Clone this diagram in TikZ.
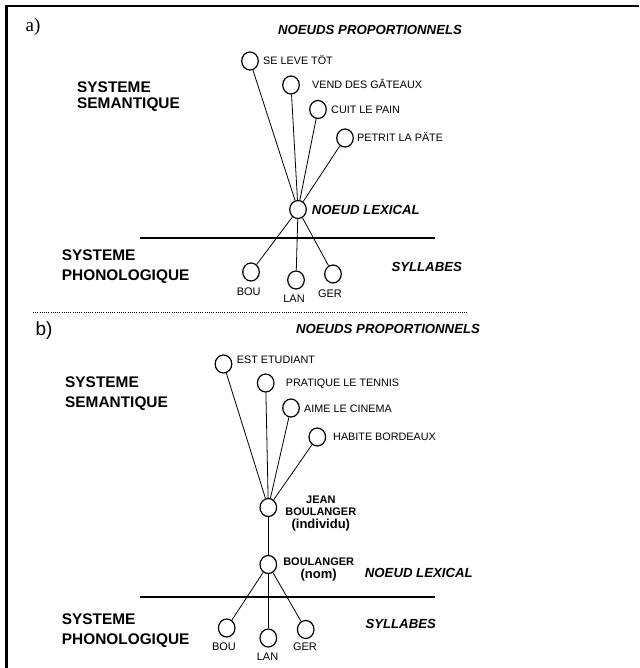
\documentclass[tikz,border=0pt]{standalone}
\usepackage{fontspec}
\setmainfont{Liberation Sans}
\newfontfamily\timesfont{Liberation Serif}
\usepackage{tikz}
\usetikzlibrary{
    shapes.geometric
}
\tikzstyle{unitnode} = [
    ellipse, draw,
    line width=1.2pt,
    minimum width=16.6pt,
    minimum height=18pt,
    inner sep=0pt,
    fill=white
]
\tikzstyle{feat} = [
    anchor=west, inner sep=0pt,
    font=\fontsize{10.8}{12}\selectfont,
    text height=7.7pt, text depth=0pt
]
\tikzstyle{syl} = [
    inner sep=0pt,
    font=\fontsize{11}{12}\selectfont,
    text height=7.9pt, text depth=0pt
]
\tikzstyle{sysname} = [
    anchor=west, align=left, inner sep=0pt,
    font=\bfseries\fontsize{15.4}{20}\selectfont
]
\tikzstyle{tagtext} = [
    inner sep=0pt,
    font=\bfseries\itshape\fontsize{13.2}{14}\selectfont,
    text height=9.5pt, text depth=0pt
]
\tikzstyle{namebox} = [
    align=center, inner sep=0pt,
    font=\bfseries\fontsize{11}{12}\selectfont
]
\tikzstyle{link} = [
    line width=0.8pt
]
\tikzstyle{divide} = [
    line width=2pt
]

\begin{document}
\begin{tikzpicture}[x=1pt, y=-1pt]
    \useasboundingbox (0,0) rectangle (639,668);
    \draw[line width=2.2pt] (6.5,668) -- (6.5,6.2) -- (639,6.2);

    \node[font=\timesfont\fontsize{19}{20}\selectfont, inner sep=0pt] (alabel) at (33,27) {a)};
    \node[tagtext] (aProp) at (370,30) {NOEUDS PROPORTIONNELS};
    \node[sysname] (aSem) at (77,96.7) {SYSTEME\\[-4.5pt]SEMANTIQUE};
    \node[sysname] (aPhon) at (61.7,266.7) {SYSTEME\\PHONOLOGIQUE};

    \node[unitnode] (aLeve)   at (250,61)    {};
    \node[unitnode] (aVend)   at (291,85)    {};
    \node[unitnode] (aCuit)   at (318,109.5) {};
    \node[unitnode] (aPetrit) at (345,138)   {};
    \node[unitnode] (aLex)    at (298,209.5) {};
    \node[unitnode] (aBou)    at (251,272)   {};
    \node[unitnode] (aLan)    at (296,280)   {};
    \node[unitnode] (aGer)    at (333,274)   {};

    \node[feat] (tLeve)   at (263,61)  {SE LEVE TÖT};
    \node[feat] (tVend)   at (312,85)  {VEND DES GÂTEAUX};
    \node[feat] (tCuit)   at (331,110) {CUIT LE PAIN};
    \node[feat] (tPetrit) at (357,138) {PETRIT LA PÄTE};
    \node[tagtext, anchor=west] (aLexTag) at (311.7,210) {NOEUD LEXICAL};
    \node[tagtext] (aSyl) at (426.7,266.7) {SYLLABES};
    \node[syl] (tBouA) at (248.7,291.7) {BOU};
    \node[syl] (tLanA) at (294,299)     {LAN};
    \node[syl] (tGerA) at (330,294)     {GER};

    \foreach \n in {aLeve,aVend,aCuit,aPetrit,aBou,aLan,aGer}
        \draw[link] (aLex) -- (\n);
    \draw[divide] (140,238.3) -- (435,238.3);

    \draw[line width=0.8pt, dash pattern=on 0.8pt off 1.4pt] (33,312) -- (468,312);

    \node[font=\fontsize{19}{20}\selectfont, inner sep=0pt] (blabel) at (44,330.5) {b)};
    \node[tagtext] (bProp) at (388,329) {NOEUDS PROPORTIONNELS};
    \node[sysname] (bSem) at (65,393.3) {SYSTEME\\SEMANTIQUE};
    \node[sysname] (bPhon) at (61.7,631) {SYSTEME\\PHONOLOGIQUE};

    \node[unitnode] (bEst)      at (223.5,364)   {};
    \node[unitnode] (bTennis)   at (265.7,383)   {};
    \node[unitnode] (bCinema)   at (291,408)     {};
    \node[unitnode] (bBordeaux) at (317.3,437)   {};
    \node[unitnode] (bJean)     at (268.3,507.5) {};
    \node[unitnode] (bNom)      at (268.3,564.5) {};
    \node[unitnode] (bBou)      at (226.7,628)   {};
    \node[unitnode] (bLan)      at (268.3,638)   {};
    \node[unitnode] (bGer)      at (305.7,629.5) {};

    \node[feat] (tEst)      at (236.7,360)   {EST ETUDIANT};
    \node[feat] (tTennis)   at (285.7,383)   {PRATIQUE LE TENNIS};
    \node[feat] (tCinema)   at (304,409)     {AIME LE CINEMA};
    \node[feat] (tBordeaux) at (333,436.7)   {HABITE BORDEAUX};
    \node[namebox] (tJean) at (320.8,513.3)
        {JEAN\\BOULANGER\\[1pt]{\fontsize{13}{13}\selectfont(individu)}};
    \node[namebox] (tNom) at (318.7,569.2)
        {BOULANGER\\[1.3pt]{\fontsize{13}{13}\selectfont(nom)}};
    \node[tagtext] (bLexTag) at (418.8,572.7) {NOEUD LEXICAL};
    \node[tagtext] (bSyl) at (400.7,624) {SYLLABES};
    \node[syl] (tBouB) at (224,646.7)   {BOU};
    \node[syl] (tLanB) at (267.5,656.7) {LAN};
    \node[syl] (tGerB) at (305,646.7)   {GER};

    \foreach \n in {bEst,bTennis,bCinema,bBordeaux,bNom}
        \draw[link] (bJean) -- (\n);
    \foreach \n in {bBou,bLan,bGer}
        \draw[link] (bNom) -- (\n);
    \draw[divide] (140,596.7) -- (435,596.7);
\end{tikzpicture}
\end{document}
